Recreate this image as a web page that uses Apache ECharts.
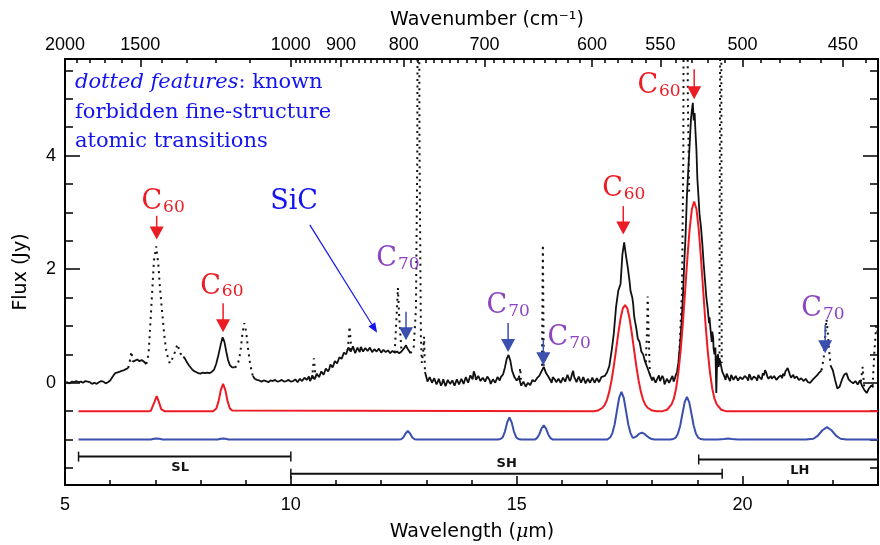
<!DOCTYPE html>
<html><head><meta charset="utf-8">
<script src="https://cdn.jsdelivr.net/npm/echarts@6/dist/echarts.min.js"></script>
<style>html,body{margin:0;padding:0;background:#fff}#c{width:880px;height:545px}</style>
</head><body><div id="c"></div>
<script>
// ---------- data ----------
const specWave = [5.00,5.05,5.10,5.15,5.20,5.25,5.30,5.35,5.40,5.45,5.50,5.55,5.60,5.65,5.70,5.75,5.80,5.85,5.90,5.95,6.00,6.05,6.10,6.15,6.20,6.25,6.30,6.35,6.40,6.45,
6.50,6.55,6.60,6.65,6.70,6.75,6.80,7.00,
7.62,7.66,7.70,7.75,7.80,7.85,7.90,7.95,8.00,8.05,8.10,8.15,8.20,8.25,8.30,8.35,8.40,8.45,8.49,8.53,8.57,8.61,8.65,8.70,8.76,8.95,
9.16,9.20,9.25,9.30,9.35,9.40,9.45,9.50,9.55,9.60,9.65,9.70,9.75,9.80,9.85,9.90,9.95,10.00,10.05,10.10,10.15,10.20,10.25,10.30,10.35,10.40,10.45,10.50,10.55,10.60,10.65,10.70,10.75,10.80,10.85,10.90,10.95,11.00,11.05,11.10,11.15,11.20,11.25,11.30,11.35,11.40,11.45,11.50,11.55,11.60,11.65,11.70,11.75,11.80,11.85,11.90,11.95,12.00,12.05,12.10,12.15,12.20,12.25,12.30,12.35,12.40,12.45,12.50,12.55,12.60,12.65,12.80,
12.97,13.00,13.05,13.10,13.15,13.20,13.25,13.30,13.35,13.40,13.45,13.50,13.55,13.60,13.65,13.70,13.75,13.80,13.85,13.90,13.95,14.00,14.05,14.10,14.15,14.20,14.25,14.30,14.35,14.40,14.45,14.50,14.55,14.60,14.65,14.70,14.74,14.78,14.82,14.86,14.90,14.95,15.00,15.05,15.10,15.15,15.20,15.25,15.30,15.35,15.40,15.45,15.50,15.55,15.60,15.65,15.70,15.75,15.80,15.85,15.90,15.95,16.00,16.05,16.10,16.15,16.20,16.25,16.30,16.35,16.40,16.45,16.50,16.55,16.60,16.65,16.70,16.75,16.80,16.85,16.90,16.95,17.00,17.05,17.10,17.15,17.20,17.25,17.30,17.34,17.38,17.42,17.46,17.50,17.54,17.58,17.62,17.66,17.70,17.74,17.78,17.82,17.86,17.90,17.95,18.00,18.05,18.10,18.15,18.20,18.25,18.30,18.35,18.40,18.45,18.50,18.55,18.58,18.62,18.65,18.68,18.71,18.74,18.77,18.80,18.83,18.86,18.88,18.90,18.92,18.94,18.96,18.98,19.00,19.02,19.05,19.08,19.11,19.14,19.17,19.20,19.23,19.26,19.29,19.32,19.35,19.38,19.40,19.42,19.44,19.47,19.50,19.55,19.60,19.65,19.70,19.75,19.80,19.85,19.90,19.95,20.00,20.05,20.10,20.15,20.20,20.25,20.30,20.35,20.40,20.45,20.50,20.55,20.60,20.65,20.70,20.75,20.80,20.85,20.90,20.95,21.00,21.05,21.10,21.15,21.20,21.25,21.30,21.35,21.40,21.45,21.50,21.55,21.60,21.65,21.70,21.75,21.85,
21.95,22.00,22.05,22.10,22.15,22.20,22.25,22.30,22.35,22.40,22.45,22.50,22.55,22.60,22.65,22.70,22.75,22.80,22.85,22.90];
const specFlux = [0.00,0.01,-0.01,0.02,0.01,0.03,0.01,0.02,0.00,0.03,0.02,0.01,-0.02,0.00,-0.02,0.01,0.03,0.02,-0.01,0.01,0.04,0.10,0.16,0.18,0.19,0.21,0.22,0.24,0.26,null,
0.37,0.39,0.41,0.38,0.40,0.37,0.33,null,
0.46,0.42,0.36,0.30,0.25,0.21,0.19,0.17,0.16,0.18,0.17,0.18,0.17,0.19,0.23,0.34,0.50,0.68,0.80,0.72,0.55,0.40,0.31,0.27,0.27,null,
0.12,0.07,0.05,0.04,0.02,0.04,0.03,0.01,0.04,0.03,0.05,0.02,0.03,0.05,0.02,0.03,0.05,0.02,0.03,0.06,0.01,0.07,0.03,0.09,0.05,0.11,0.07,0.13,0.09,0.17,0.13,0.21,0.17,0.27,0.24,0.34,0.29,0.41,0.37,0.48,0.44,0.56,0.57,0.63,0.57,0.61,0.54,0.59,0.63,0.55,0.61,0.56,0.62,0.54,0.59,0.55,0.60,0.53,0.58,0.54,0.57,0.52,0.56,0.53,0.55,0.52,0.55,0.60,0.66,0.58,0.52,null,
0.19,0.10,0.06,0.09,0.03,0.06,0.01,0.05,-0.01,0.03,-0.03,0.02,-0.05,0.01,-0.03,0.03,-0.01,0.05,0.01,0.08,0.03,0.11,0.20,0.05,0.12,0.03,0.09,0.02,0.11,0.05,0.02,0.08,0.03,0.07,0.10,0.15,0.27,0.42,0.49,0.39,0.21,0.10,0.04,0.09,-0.05,0.02,-0.07,0.00,-0.04,0.05,0.02,0.08,0.12,0.20,0.28,0.17,0.11,0.04,0.10,0.05,0.02,0.09,0.04,0.11,0.05,0.12,0.07,0.21,0.06,0.04,0.09,0.02,0.08,0.01,0.10,0.03,0.07,0.01,0.06,0.04,0.08,0.12,0.18,0.29,0.55,0.86,1.33,1.62,1.74,2.25,2.47,2.24,2.03,1.78,1.60,1.38,1.08,0.90,0.76,0.64,0.52,0.44,0.36,0.25,0.14,0.04,0.11,0.02,0.13,0.01,0.08,-0.01,0.10,0.03,0.12,0.07,0.19,0.35,0.70,1.05,1.50,2.10,2.60,3.30,3.75,4.20,4.65,4.80,4.93,4.62,4.75,4.40,4.10,3.60,3.35,2.95,2.75,2.45,2.10,1.80,1.50,1.30,1.05,0.95,0.72,0.80,0.50,0.62,-0.18,0.45,0.28,0.40,0.20,0.11,0.16,0.07,0.14,0.05,0.12,0.04,0.10,0.06,0.12,0.08,0.15,0.05,0.11,0.08,0.14,0.09,0.17,0.22,0.11,0.09,0.07,0.12,0.05,0.10,0.13,0.16,0.20,0.26,0.14,0.11,0.08,0.11,0.05,0.08,0.03,0.07,0.01,0.00,0.05,0.09,0.13,0.18,0.22,null,
0.30,0.22,0.05,-0.10,-0.07,0.05,0.14,0.17,0.06,0.02,-0.01,0.03,-0.03,0.04,-0.06,-0.13,-0.18,-0.10,-0.05,-0.08];

// extra in-between samples of the noisy spectrum (merged with the above by wavelength)
const noiseWave = [10.425,10.475,10.525,10.575,10.625,10.675,10.725,10.775,10.825,10.875,10.925,10.975,11.025,11.075,11.125,11.175,11.225,11.275,11.325,11.375,11.425,11.475,11.525,11.575,11.625,11.675,11.725,11.775,11.825,11.875,11.925,11.975,12.025,12.075,12.125,12.175,12.225,12.275,12.325,12.375,12.425,12.475,12.525,12.575,12.625,
13.025,13.075,13.125,13.175,13.225,13.275,13.325,13.375,13.425,13.475,13.525,13.575,13.625,13.675,13.725,13.775,13.825,13.875,13.925,13.975,14.025,14.075,14.125,14.175,14.225,14.275,14.325,14.375,14.425,14.475,14.525,14.575,14.625,
15.725,15.775,15.825,15.875,15.925,15.975,16.025,16.075,16.125,16.175,16.225,16.275,16.325,16.375,16.425,16.475,16.525,16.575,16.625,16.675,16.725,16.775,16.825,16.875,
17.52,17.56,17.60,17.64,17.68,17.72,17.76,17.80,17.84,
18.025,18.075,18.125,18.175,18.225,18.275,18.325,18.375,18.425,18.475,18.525,
19.27,19.33,19.36,19.46,
19.625,19.675,19.725,19.775,19.825,19.875,19.925,19.975,20.025,20.075,20.125,20.175,20.225,20.275,20.325,20.375,20.425,20.475,20.525,20.575,20.625,20.675,20.725,20.775,20.825,20.875,20.925,20.975,21.025,21.075,21.125,21.175,21.225,21.275,21.325,21.375,21.425,21.475,21.525,21.575,21.625,21.675,21.725];
const noiseFlux = [0.03,0.13,0.06,0.16,0.10,0.20,0.14,0.25,0.20,0.32,0.27,0.38,0.34,0.45,0.42,0.53,0.50,0.62,0.55,0.64,0.52,0.62,0.54,0.60,0.52,0.63,0.53,0.58,0.51,0.61,0.52,0.57,0.50,0.59,0.51,0.58,0.50,0.57,0.50,0.56,0.51,0.57,0.62,0.61,0.55,
0.02,0.10,0.00,0.08,-0.03,0.07,-0.05,0.06,-0.06,0.05,-0.02,0.04,-0.05,0.06,-0.03,0.07,-0.02,0.10,0.00,0.13,0.06,0.15,0.02,0.10,0.00,0.12,0.00,0.08,-0.02,0.06,0.00,0.10,0.04,
0.09,0.00,0.12,0.01,0.07,0.00,0.09,0.02,0.14,0.03,0.15,0.10,0.01,0.11,0.00,0.10,-0.01,0.07,0.00,0.09,0.00,0.08,0.01,0.10,
1.62,1.50,1.18,1.00,0.78,0.72,0.55,0.50,0.38,
0.10,0.00,0.09,0.03,0.12,-0.03,0.07,0.00,0.08,0.02,0.14,
1.15,0.90,0.60,0.50,
0.05,0.13,0.03,0.10,0.02,0.09,0.01,0.12,0.04,0.10,0.04,0.11,0.02,0.13,0.04,0.10,0.06,0.13,0.18,0.07,0.12,0.04,0.09,0.02,0.12,0.08,0.12,0.17,0.20,0.09,0.14,0.05,0.08,0.02,0.06,0.00,0.04,-0.02,0.02,0.07,0.10,0.16,0.15];

// forbidden fine-structure lines (dotted), null separates features
const dotWave = [6.40,6.44,6.47,6.50,6.60,
6.80,6.85,6.92,6.97,7.02,7.07,7.10,7.14,7.18,7.21,7.25,7.32,7.40,7.49,7.55,7.62,7.70,
8.76,8.82,8.88,8.93,8.97,9.01,9.05,9.09,9.13,9.16,9.20,
10.47,10.51,10.55,10.60,
11.26,11.30,11.34,11.40,
12.30,12.34,12.37,12.40,12.45,12.50,
12.65,12.72,12.77,12.80,12.82,12.85,12.88,12.90,12.93,12.95,12.97,13.00,
15.05,15.08,15.10,15.15,
15.56,15.58,15.60,15.65,
17.86,17.89,17.90,17.92,17.95,18.00,
18.60,18.66,18.69,18.71,18.76,18.79,18.82,18.85,
19.49,19.52,19.54,19.60,
21.75,21.80,21.83,21.86,21.89,21.92,21.95,22.00,
22.62,22.66,22.70,22.75,
22.88,22.92,22.96,23.00];
const dotFlux = [0.26,0.40,0.55,0.37,null,
0.33,0.50,1.46,2.16,2.40,2.05,1.69,1.34,0.99,0.75,0.52,0.34,0.46,0.68,0.52,0.46,null,
0.27,0.30,0.52,0.88,1.05,0.90,0.62,0.38,0.20,0.12,null,
0.07,0.43,0.09,null,
0.57,0.99,0.57,null,
0.53,1.15,1.67,1.15,0.55,null,
0.52,0.62,1.30,4.00,12.0,4.00,0.80,0.35,0.55,0.81,0.19,null,
0.09,0.26,-0.05,null,
0.30,2.43,0.30,null,
0.36,1.00,1.52,0.90,0.14,null,
0.50,1.60,4.00,12.0,12.0,5.00,3.30,null,
0.40,12.0,0.35,null,
0.22,0.45,0.80,1.12,0.85,0.55,0.30,null,
0.02,0.28,-0.13,null,
-0.06,0.55,1.00,0.85];

// C60 model (offset by -0.5)
const redWave = [5.30,6.85,6.90,6.93,6.98,7.03,7.08,7.13,7.16,7.20,
8.28,8.30,8.35,8.40,8.45,8.50,8.55,8.60,8.65,8.70,8.72,
16.70,16.80,16.90,16.95,17.00,17.05,17.10,17.15,17.20,17.25,17.30,17.35,17.40,17.45,17.50,17.55,17.60,17.65,17.70,17.75,17.80,17.85,17.90,18.00,18.10,
18.23,18.33,18.43,18.48,18.53,18.58,18.63,18.68,18.73,18.78,18.83,18.88,18.93,18.98,19.03,19.08,19.13,19.18,19.23,19.28,19.33,19.38,19.43,19.53,19.63,23.00];
const redFlux = [-0.5,-0.5,-0.495,-0.464,-0.34,-0.235,-0.34,-0.464,-0.495,-0.5,
-0.5,-0.49,-0.452,-0.327,-0.128,-0.02,-0.128,-0.327,-0.452,-0.49,-0.5,
-0.5,-0.49,-0.44,-0.39,-0.30,-0.16,0.04,0.29,0.575,0.87,1.13,1.31,1.37,1.31,1.13,0.87,0.575,0.29,0.04,-0.16,-0.30,-0.39,-0.44,-0.49,-0.5,
-0.5,-0.475,-0.38,-0.28,-0.10,0.18,0.56,1.05,1.62,2.20,2.71,3.06,3.19,3.06,2.71,2.20,1.62,1.05,0.56,0.18,-0.10,-0.28,-0.38,-0.475,-0.5,-0.5];

// C70 model (offset by -1.0)
const blueWave = [5.30,6.90,6.97,7.03,7.09,7.16,
8.38,8.45,8.50,8.55,8.62,
12.38,12.44,12.49,12.54,12.59,12.64,12.69,12.74,12.80,
14.58,14.64,14.69,14.74,14.79,14.84,14.89,14.94,14.99,15.04,15.10,
15.40,15.45,15.50,15.55,15.60,15.65,15.70,15.75,15.80,
17.00,17.02,17.07,17.12,17.17,17.22,17.27,17.32,17.37,17.42,17.47,17.52,17.57,17.62,17.67,17.72,17.77,17.82,17.87,17.92,17.97,18.05,
18.40,18.47,18.52,18.57,18.62,18.67,18.72,18.77,18.82,18.87,18.92,18.97,19.02,19.07,19.15,
19.45,19.60,19.68,19.76,19.90,
21.40,21.57,21.67,21.77,21.87,21.97,22.07,22.17,22.30,23.00];
const blueFlux = [-1.0,-1.0,-0.985,-0.98,-0.985,-1.0,
-1.0,-0.985,-0.98,-0.985,-1.0,
-1.0,-0.994,-0.963,-0.894,-0.85,-0.894,-0.963,-0.994,-1.0,
-1.0,-0.99,-0.961,-0.86,-0.698,-0.61,-0.698,-0.86,-0.961,-0.99,-1.0,
-1.0,-0.975,-0.91,-0.806,-0.75,-0.806,-0.91,-0.975,-1.0,
-1.0,-0.99,-0.963,-0.886,-0.73,-0.49,-0.26,-0.16,-0.26,-0.49,-0.73,-0.886,-0.97,-0.96,-0.93,-0.895,-0.88,-0.895,-0.93,-0.96,-0.985,-1.0,
-1.0,-0.99,-0.967,-0.899,-0.756,-0.545,-0.34,-0.25,-0.34,-0.545,-0.756,-0.899,-0.967,-0.99,-1.0,
-1.0,-0.99,-0.98,-0.99,-1.0,
-1.0,-0.985,-0.932,-0.836,-0.78,-0.836,-0.932,-0.985,-1.0,-1.0];

// axis ticks
const xMajor = [5, 10, 15, 20];
const xMinor = [6,7,8,9,11,12,13,14,16,17,18,19,21,22];
const yMajor = [0, 2, 4];
const yMinor = [-1.5,-1,-0.5,0.5,1,1.5,2.5,3,3.5,4.5,5,5.5];
const waveNumLabels = [2000,1500,1000,900,800,700,600,550,500,450];

// annotations (data units)
const labelMain = ['C','C','C','C','C','C','C','C'];
const labelSub  = ['60','60','60','60','70','70','70','70'];
const labelX = [7.15, 8.45, 17.35, 18.13, 12.35, 14.79, 16.14, 21.76];
const labelY = [2.99, 1.51, 3.22, 5.04, 1.99, 1.16, 0.61, 1.11];
const arrowX = [7.03, 8.50, 17.36, 18.93, 12.55, 14.81, 15.59, 21.83];
const arrowTop = [2.94, 1.40, 3.11, 5.52, 1.25, 1.05, 0.75, 1.02];
const arrowTip = [2.52, 0.89, 2.61, 4.99, 0.75, 0.54, 0.31, 0.52];

const bandNames = ['SL','SH','LH'];
const bandStart = [5.3, 10.0, 19.03];
const bandEnd   = [10.0, 19.55, 23.0];
const bandLevel = [-1.3, -1.6, -1.35];
const bandLabelX = [7.55, 14.78, 21.27];
const bandLabelBelow = [true, false, true];

// ---------- styles ----------
const RED = '#ec1c24', MBLUE = '#3a4fae', PURPLE = '#8c44c0', TBLUE = '#1414ee';
const TICKFONT = 'Liberation Sans';

const waveNumMinor = [];
for (let v = 1900; v > 1000; v -= 100) if (waveNumLabels.indexOf(v) < 0) waveNumMinor.push(v);
for (let v = 990; v >= 440; v -= 10) if (waveNumLabels.indexOf(v) < 0) waveNumMinor.push(v);

function xAx(pos, ticks, len, labelCfg, showLine) {
  return {
    type: 'value', position: pos, min: 5, max: 23,
    axisLine: { show: showLine, onZero: false, lineStyle: { color: '#000', width: 2 } },
    axisTick: { show: true, inside: true, length: len, customValues: ticks, lineStyle: { color: '#000', width: 1.5 } },
    axisLabel: labelCfg || { show: false },
    splitLine: { show: false }
  };
}
function yAx(pos, ticks, len, labelCfg, showLine) {
  return {
    type: 'value', position: pos, min: -1.8, max: 5.7,
    axisLine: { show: showLine, onZero: false, lineStyle: { color: '#000', width: 2 } },
    axisTick: { show: true, inside: true, length: len, customValues: ticks, lineStyle: { color: '#000', width: 1.5 } },
    axisLabel: labelCfg || { show: false },
    splitLine: { show: false }
  };
}
const pairs = (xs, ys) => xs.map((x, i) => [x, ys[i]]);
const specData = pairs(specWave, specFlux).concat(pairs(noiseWave, noiseFlux)).sort((a, b) => a[0] - b[0]);

const chart = echarts.init(document.getElementById('c'), null, { renderer: 'canvas' });
chart.setOption({
  animation: false,
  backgroundColor: '#fff',
  grid: { left: 65, top: 59, width: 813, height: 426, containLabel: false },
  xAxis: [
    xAx('bottom', xMajor, 9, { show: true, customValues: xMajor, margin: 11, color: '#000', fontSize: 18, fontFamily: TICKFONT }, true),
    xAx('bottom', xMinor, 5, null, false),
    xAx('top', waveNumLabels.map(v => 10000 / v), 8, {
      show: true, customValues: waveNumLabels.map(v => 10000 / v), margin: 5, color: '#000', fontSize: 18, fontFamily: TICKFONT,
      formatter: v => String(Math.round(10000 / v))
    }, true),
    xAx('top', waveNumMinor.map(v => 10000 / v), 4, null, false)
  ],
  yAxis: [
    yAx('left', yMajor, 15, { show: true, customValues: yMajor, margin: 9, color: '#000', fontSize: 18, fontFamily: TICKFONT }, true),
    yAx('left', yMinor, 8, null, false),
    yAx('right', yMajor, 15, null, true),
    yAx('right', yMinor, 8, null, false)
  ],
  graphic: [
    { type: 'text', x: 487, y: 20, style: { text: 'Wavenumber (cm⁻¹)', font: '19px "DejaVu Sans"', fill: '#000', align: 'center', verticalAlign: 'middle' } },
    { type: 'text', x: 472, y: 532, style: { text: '{n|Wavelength (}{i|μ}{n|m)}', align: 'center', verticalAlign: 'middle',
      rich: { n: { font: '19px "DejaVu Sans"', fill: '#000' }, i: { font: 'italic 19px "DejaVu Serif"', fill: '#000' } } } },
    { type: 'text', x: 21, y: 272, rotation: Math.PI / 2, style: { text: 'Flux (Jy)', font: '19px "DejaVu Sans"', fill: '#000', align: 'center', verticalAlign: 'middle' } },
    { type: 'text', x: 75, y: 68, style: { text: '{i|dotted features}{n|: known}\n{n|forbidden fine-structure}\n{n|atomic transitions}', verticalAlign: 'top',
      rich: { i: { font: 'italic 21px "DejaVu Serif"', fill: TBLUE, lineHeight: 29.5 }, n: { font: '21px "DejaVu Serif"', fill: TBLUE, lineHeight: 29.5 } } } }
  ],
  series: [
    { type: 'line', name: 'spectrum', data: specData, showSymbol: false, connectNulls: false,
      lineStyle: { color: '#111', width: 1.8 }, z: 3 },
    { type: 'line', name: 'lines', data: pairs(dotWave, dotFlux), showSymbol: false, connectNulls: false,
      lineStyle: { color: '#111', width: 2, type: [2, 4.5] }, z: 3 },
    { type: 'line', name: 'C60 model', data: pairs(redWave, redFlux), showSymbol: false, lineStyle: { color: RED, width: 2 }, z: 4 },
    { type: 'line', name: 'C70 model', data: pairs(blueWave, blueFlux), showSymbol: false, lineStyle: { color: MBLUE, width: 2 }, z: 4 },
    { type: 'custom', name: 'bands', data: bandNames.map((n, i) => [bandStart[i], bandLevel[i]]), z: 5,
      renderItem: (params, api) => {
        const i = params.dataIndex;
        const a = api.coord([bandStart[i], bandLevel[i]]);
        const b = api.coord([bandEnd[i], bandLevel[i]]);
        const l = api.coord([bandLabelX[i], bandLevel[i]]);
        const st = { stroke: '#111', lineWidth: 2 };
        return { type: 'group', children: [
          { type: 'line', shape: { x1: a[0], y1: a[1], x2: b[0], y2: b[1] }, style: st },
          { type: 'line', shape: { x1: a[0], y1: a[1] - 5, x2: a[0], y2: a[1] + 5 }, style: { stroke: '#111', lineWidth: 1.5 } },
          { type: 'line', shape: { x1: b[0], y1: b[1] - 5, x2: b[0], y2: b[1] + 5 }, style: { stroke: '#111', lineWidth: 1.5 } },
          { type: 'text', x: l[0], y: l[1] + (bandLabelBelow[i] ? 11 : -10),
            style: { text: bandNames[i], font: 'bold 13px "DejaVu Sans"', fill: '#111', align: 'center', verticalAlign: 'middle' } }
        ] };
      } },
    { type: 'custom', name: 'labels', data: arrowX.map((x, i) => [x, arrowTip[i]]), z: 6,
      renderItem: (params, api) => {
        const i = params.dataIndex;
        const top = api.coord([arrowX[i], arrowTop[i]]);
        const tip = api.coord([arrowX[i], arrowTip[i]]);
        const lab = api.coord([labelX[i], labelY[i]]);
        const is60 = labelSub[i] === '60';
        const ac = is60 ? RED : MBLUE, tc = is60 ? RED : PURPLE;
        const hh = 13, hw = 7;
        return { type: 'group', children: [
          { type: 'line', shape: { x1: top[0], y1: top[1], x2: tip[0], y2: tip[1] - hh + 1 }, style: { stroke: ac, lineWidth: 1.5 } },
          { type: 'polygon', shape: { points: [[tip[0] - hw, tip[1] - hh], [tip[0] + hw, tip[1] - hh], [tip[0], tip[1]]] }, style: { fill: ac } },
          { type: 'text', x: lab[0], y: lab[1] - 10.5, style: { text: labelMain[i], font: '27px "DejaVu Serif"', fill: tc, align: 'right', verticalAlign: 'middle' } },
          { type: 'text', x: lab[0] + 1, y: lab[1] - 5, style: { text: labelSub[i], font: '17px "DejaVu Serif"', fill: tc, align: 'left', verticalAlign: 'middle' } }
        ] };
      } },
    { type: 'custom', name: 'SiC', data: [[11.91, 0.88]], z: 6,
      renderItem: (params, api) => {
        const s = api.coord([10.42, 2.78]);
        const e = api.coord([11.91, 0.88]);
        const t = api.coord([10.6, 2.99]);
        const dx = e[0] - s[0], dy = e[1] - s[1], L = Math.sqrt(dx * dx + dy * dy);
        const ux = dx / L, uy = dy / L, hl = 10, hw = 4;
        const bx = e[0] - ux * hl, by = e[1] - uy * hl;
        return { type: 'group', children: [
          { type: 'line', shape: { x1: s[0], y1: s[1], x2: bx, y2: by }, style: { stroke: TBLUE, lineWidth: 1.2 } },
          { type: 'polygon', shape: { points: [[bx - uy * hw, by + ux * hw], [bx + uy * hw, by - ux * hw], [e[0], e[1]]] }, style: { fill: TBLUE } },
          { type: 'text', x: t[0], y: t[1] - 10.5, style: { text: 'SiC', font: '27px "DejaVu Serif"', fill: TBLUE, align: 'right', verticalAlign: 'middle' } }
        ] };
      } }
  ]
});
</script></body></html>
